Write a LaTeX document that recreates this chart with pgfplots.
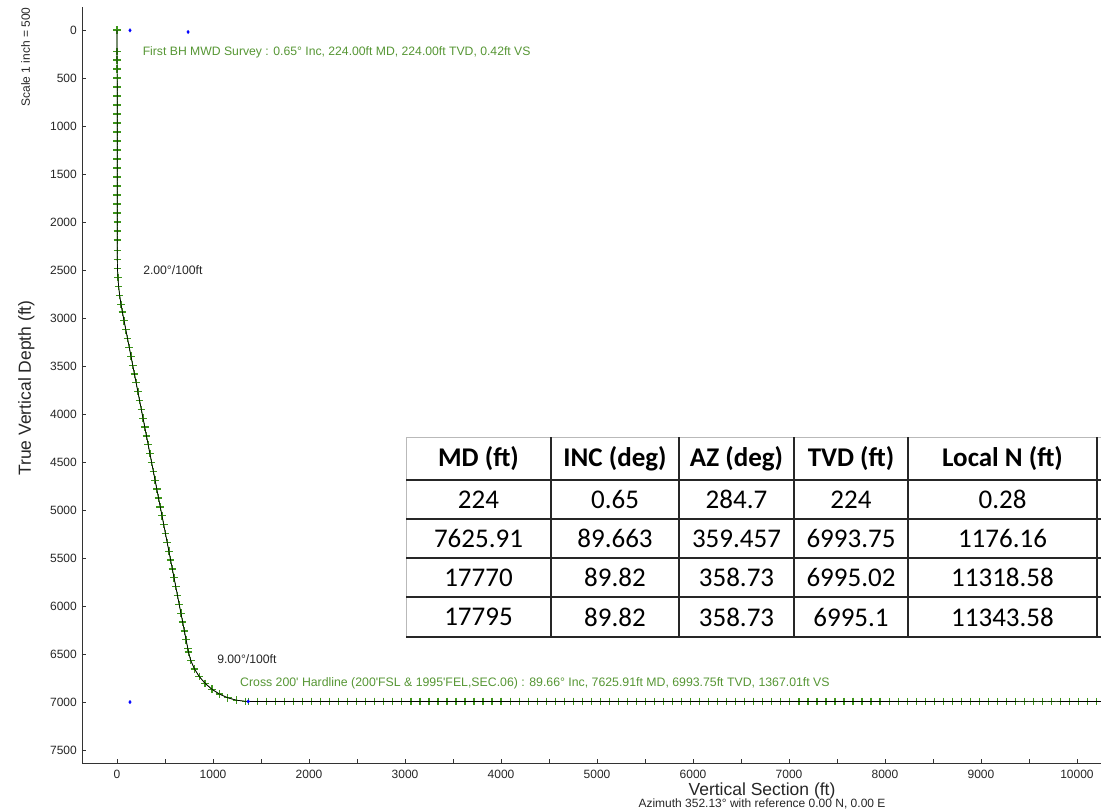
\documentclass[border=0pt]{standalone}
\usepackage{fontspec}
\setmainfont{Liberation Sans}
\newfontfamily\tabfont{Carlito}
\usepackage{pgfplots}
\pgfplotsset{compat=1.18}
\usepackage{pgfplotstable}
\usetikzlibrary{calc}
\definecolor{svygreen}{RGB}{60,150,25}
\definecolor{txtgreen}{RGB}{86,150,52}

% survey stations: vertical section (ft) vs true vertical depth (ft)
\pgfplotstableread{
vs tvd
0 0
0.4 224
0.6 313
0.9 406
1.1 500
1.3 594
1.5 688
1.7 781
1.9 875
2.0 969
2.1 1063
2.2 1156
2.3 1250
2.4 1344
2.5 1438
2.5 1531
2.6 1625
2.6 1719
2.7 1813
2.7 1906
2.8 2000
2.8 2094
2.9 2188
2.9 2296
3.0 2390
4.5 2484
9.2 2578
16.9 2672
27.6 2765
41.5 2858
55.6 2937
73.5 3029
91.5 3122
109.4 3214
127.4 3306
145.3 3398
163.2 3491
181.2 3583
199.1 3675
217.1 3767
235.0 3860
252.9 3952
270.9 4044
288.8 4136
306.8 4229
324.7 4321
342.6 4413
360.6 4506
378.5 4598
396.5 4690
414.4 4782
432.3 4875
450.3 4967
468.2 5059
486.2 5151
504.1 5244
522.0 5336
540.0 5428
557.9 5520
575.9 5613
593.8 5705
611.7 5797
629.7 5890
647.6 5982
665.6 6074
683.5 6166
701.4 6259
719.4 6351
737.3 6443
743.9 6478
768.6 6568.6
806.3 6654.6
856.3 6734.1
917.4 6805.4
988.4 6866.9
1067.6 6917.4
1153.3 6955.6
1243.9 6980.7
1337.0 6992.3
1368.8 6993.7
1463 6993.9
1557 6994.0
1651 6994.0
1745 6994.1
1839 6994.1
1933 6994.2
2027 6994.2
2121 6994.2
2215 6994.3
2309 6994.3
2403 6994.3
2497 6994.4
2591 6994.4
2685 6994.4
2779 6994.4
2873 6994.5
2967 6994.5
3061 6994.5
3155 6994.5
3249 6994.5
3343 6994.6
3437 6994.6
3531 6994.6
3625 6994.6
3719 6994.6
3813 6994.6
3907 6994.7
4001 6994.7
4095 6994.7
4189 6994.7
4283 6994.2
4377 6994.0
4471 6994.1
4565 6994.3
4659 6994.6
4753 6994.7
4847 6994.7
4941 6994.8
5035 6994.8
5129 6994.8
5223 6994.8
5317 6994.8
5411 6994.8
5505 6994.8
5599 6994.8
5693 6994.8
5787 6994.8
5881 6994.9
5975 6994.9
6069 6994.6
6163 6994.9
6257 6994.9
6351 6994.9
6445 6994.3
6539 6994.2
6633 6994.6
6727 6994.9
6821 6994.9
6915 6994.9
7009 6994.9
7103 6994.9
7197 6994.9
7291 6994.9
7385 6994.9
7479 6994.9
7573 6994.9
7667 6994.6
7761 6994.9
7855 6995.0
7949 6995.0
8043 6995.0
8137 6995.0
8231 6995.0
8325 6995.0
8419 6995.0
8513 6995.0
8607 6995.0
8701 6995.0
8795 6995.0
8889 6995.0
8983 6995.0
9077 6995.0
9171 6995.0
9265 6995.0
9359 6995.3
9453 6995.6
9547 6995.7
9641 6995.6
9735 6995.5
9829 6995.3
9923 6995.0
10017 6995.0
10111 6995.0
10205 6995.1
10299 6995.1
}\traj

\begin{document}
\begin{tikzpicture}[x=1pt,y=1pt]
\begin{axis}[
  scale only axis,
  width=1019pt, height=756pt,
  xmin=-365, xmax=10250, ymin=-240, ymax=7635, y dir=reverse,
  axis x line*=bottom, axis y line*=left,
  axis line style={-, black!80, line width=0.9pt},
  tick align=inside, major tick length=4pt, minor tick length=4pt,
  xtick={0,1000,...,10000}, minor xtick={500,1500,...,9500},
  ytick={0,500,...,7500},
  scaled x ticks=false, scaled y ticks=false,
  tick style={black!80, line width=0.8pt},
  ticklabel style={font=\fontsize{12}{14}\selectfont, text=black!85},
  /pgf/number format/assume math mode=true,
  /pgf/number format/1000 sep={},
  xticklabel style={inner sep=0pt, yshift=-6.7pt},
  yticklabel style={inner sep=0pt, xshift=-5pt},
  clip mode=individual,
]
\coordinate (BL) at (axis cs:-365,7635);
\addplot[svygreen, line width=0.7pt, mark=+, mark size=3.8pt,
  mark options={line width=1.25pt}] table[x=vs, y=tvd] {\traj};
\addplot[black, line width=0.7pt] table[x=vs, y=tvd] {\traj};
\addplot[only marks, blue, mark=diamond*, mark size=1.7pt]
  coordinates {(135,3) (740,20) (135,7000) (1367,6993.75)};

\node[anchor=west, inner sep=0pt, text=txtgreen, font=\fontsize{12.2}{14}\selectfont]
  at (axis cs:266,236) {First BH MWD Survey : 0.65° Inc, 224.00ft MD, 224.00ft TVD, 0.42ft VS};
\node[anchor=west, inner sep=0pt, text=black!85, font=\fontsize{12.2}{14}\selectfont]
  at (axis cs:271,2500) {2.00°/100ft};
\node[anchor=west, inner sep=0pt, text=black!85, font=\fontsize{12.2}{14}\selectfont]
  at (axis cs:1042,6552) {9.00°/100ft};
\node[anchor=west, inner sep=0pt, text=txtgreen, font=\fontsize{12.3}{14}\selectfont]
  at (axis cs:1281,6802) {Cross 200\textquotesingle{} Hardline (200\textquotesingle FSL \& 1995\textquotesingle FEL,SEC.06) : 89.66° Inc, 7625.91ft MD, 6993.75ft TVD, 1367.01ft VS};
\end{axis}

% page frame: the axis box's lower left corner sits at (82,46) of a 1101 x 809 page
\pgfresetboundingbox
\begin{scope}[shift={($(BL)+(-82,-46)$)}]
\path[use as bounding box] (0,0) rectangle (1101,809);

% axis titles
\node[rotate=90, anchor=base, inner sep=0pt, text=black!85, font=\fontsize{17.5}{20}\selectfont]
  at (31,421) {True Vertical Depth (ft)};
\node[rotate=90, anchor=base, inner sep=0pt, text=black!85, font=\fontsize{12}{14}\selectfont]
  at (30,752) {Scale 1 inch = 500};
\node[anchor=base, inner sep=0pt, text=black!85, font=\fontsize{17.5}{20}\selectfont]
  at (762,13) {Vertical Section (ft)};
\node[anchor=base, inner sep=0pt, text=black!85, font=\fontsize{12}{14}\selectfont]
  at (762,1.5) {Azimuth 352.13° with reference 0.00 N, 0.00 E};

% survey table pasted on the chart
\fill[white] (406,172) rectangle (1101,372);
\draw[gray!55, line width=0.8pt] (406,172) -- (406,372) -- (1101,372);
\foreach \yy in {329,290,251,212,172}
  \draw[black!85, line width=1.8pt] (406,\yy) -- (1101,\yy);
\foreach \xx in {551,679,794,908,1097}
  \draw[black!85, line width=1.8pt] (\xx,172) -- (\xx,372);
\begin{scope}[every node/.style={inner sep=0pt, font=\tabfont\fontsize{27}{30}\selectfont}]
\node[font=\tabfont\bfseries\fontsize{27}{30}\selectfont] at (478.5,350.5) {MD (ft)};
\node[font=\tabfont\bfseries\fontsize{27}{30}\selectfont] at (615,350.5) {INC (deg)};
\node[font=\tabfont\bfseries\fontsize{27}{30}\selectfont] at (736.5,350.5) {AZ (deg)};
\node[font=\tabfont\bfseries\fontsize{27}{30}\selectfont] at (851,350.5) {TVD (ft)};
\node[font=\tabfont\bfseries\fontsize{27}{30}\selectfont] at (1002.5,350.5) {Local N (ft)};
\node at (478.5,309.5) {224};
\node at (615,309.5) {0.65};
\node at (736.5,309.5) {284.7};
\node at (851,309.5) {224};
\node at (1002.5,309.5) {0.28};
\node at (478.5,270.5) {7625.91};
\node at (615,270.5) {89.663};
\node at (736.5,270.5) {359.457};
\node at (851,270.5) {6993.75};
\node at (1002.5,270.5) {1176.16};
\node at (478.5,231.5) {17770};
\node at (615,231.5) {89.82};
\node at (736.5,231.5) {358.73};
\node at (851,231.5) {6995.02};
\node at (1002.5,231.5) {11318.58};
\node at (478.5,192) {17795};
\node at (615,192) {89.82};
\node at (736.5,192) {358.73};
\node at (851,192) {6995.1};
\node at (1002.5,192) {11343.58};
\end{scope}
\end{scope}
\end{tikzpicture}
\end{document}
